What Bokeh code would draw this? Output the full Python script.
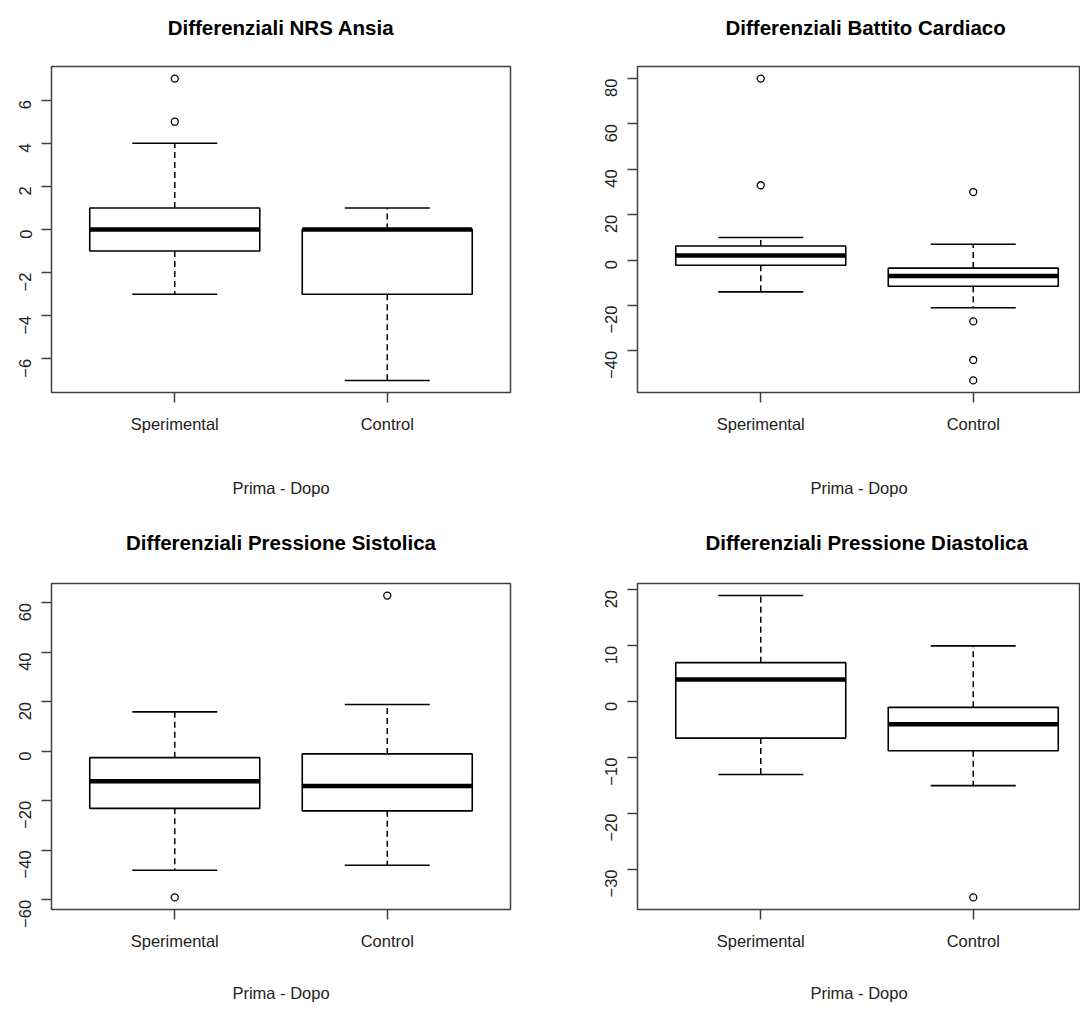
import math
from bokeh.plotting import figure
from bokeh.layouts import gridplot
from bokeh.models import Range1d, FixedTicker, LinearAxis
from bokeh.embed import file_html
from bokeh.resources import INLINE

groups = ["Sperimental", "Control"]

# Differenziali NRS Ansia
nrs_whisker_low = [-3, -7]
nrs_q1 = [-1, -3]
nrs_median = [0, 0]
nrs_q3 = [1, 0]
nrs_whisker_high = [4, 1]
nrs_outliers = [[5, 7], []]
nrs_ticks = [-6, -4, -2, 0, 2, 4, 6]

# Differenziali Battito Cardiaco
hr_whisker_low = [-14, -21]
hr_q1 = [-2.25, -11.5]
hr_median = [2, -7]
hr_q3 = [6.25, -3.5]
hr_whisker_high = [10, 7]
hr_outliers = [[33, 80], [30, -27, -44, -53]]
hr_ticks = [-40, -20, 0, 20, 40, 60, 80]

# Differenziali Pressione Sistolica
sys_whisker_low = [-48, -46]
sys_q1 = [-23, -24]
sys_median = [-12, -14]
sys_q3 = [-2.5, -1]
sys_whisker_high = [16, 19]
sys_outliers = [[-59], [63]]
sys_ticks = [-60, -40, -20, 0, 20, 40, 60]

# Differenziali Pressione Diastolica
dia_whisker_low = [-13, -15]
dia_q1 = [-6.5, -8.75]
dia_median = [4, -4]
dia_q3 = [7, -1]
dia_whisker_high = [19, 10]
dia_outliers = [[], [-35]]
dia_ticks = [-30, -20, -10, 0, 10, 20]

x_label = "Prima - Dopo"

FONT = "Liberation Sans"
FRAME_COL = "#404040"
TEXT_COL = "#222222"
FULL_FRAME_W = 459


def make_panel(title, lo, q1, med, q3, hi, outs, ticks, fig_w, fig_h,
               border_left, border_right, border_top, border_bottom,
               title_gap, title_align, title_offset, label_standoff):
    n = len(groups)
    xs = [i + 1 for i in range(n)]
    allv = lo + hi + [v for o in outs for v in o]
    vmin, vmax = min(allv), max(allv)
    pad = 0.04 * (vmax - vmin)
    y0, y1 = vmin - pad, vmax + pad
    x0 = 0.5 - 0.04 * n
    span_full = n * 1.08
    frame_w = fig_w - border_left - border_right
    x1 = x0 + span_full * frame_w / FULL_FRAME_W

    p = figure(width=fig_w, height=fig_h,
               x_range=Range1d(x0, x1), y_range=Range1d(y0, y1),
               output_backend="svg", toolbar_location=None,
               min_border_left=border_left, min_border_right=border_right,
               min_border_top=border_top, min_border_bottom=border_bottom,
               background_fill_color="white", border_fill_color="white")
    p.xgrid.visible = False
    p.ygrid.visible = False
    p.outline_line_color = FRAME_COL
    p.outline_line_width = 1.5

    bw = 0.4
    cw = 0.2
    # whiskers (dashed)
    p.segment(x0=xs, y0=q3, x1=xs, y1=hi, line_color="black", line_width=1.5, line_dash="6 4")
    p.segment(x0=xs, y0=q1, x1=xs, y1=lo, line_color="black", line_width=1.5, line_dash="6 4")
    # caps
    p.segment(x0=[x - cw for x in xs], y0=hi, x1=[x + cw for x in xs], y1=hi,
              line_color="black", line_width=1.6)
    p.segment(x0=[x - cw for x in xs], y0=lo, x1=[x + cw for x in xs], y1=lo,
              line_color="black", line_width=1.6)
    # boxes
    p.quad(left=[x - bw for x in xs], right=[x + bw for x in xs], bottom=q1, top=q3,
           fill_color="white", line_color="black", line_width=1.6)
    # medians
    p.segment(x0=[x - bw for x in xs], y0=med, x1=[x + bw for x in xs], y1=med,
              line_color="black", line_width=4.5, line_cap="butt")
    # outliers
    ox = [xs[i] for i, o in enumerate(outs) for _ in o]
    oy = [v for o in outs for v in o]
    if ox:
        p.scatter(x=ox, y=oy, marker="circle", size=7, fill_color=None,
                  line_color="black", line_width=1.3)

    # axes
    for ax in (p.xaxis, p.yaxis):
        ax.axis_line_color = None
        ax.major_tick_line_color = FRAME_COL
        ax.major_tick_line_width = 1.5
        ax.major_tick_out = 10
        ax.major_tick_in = 0
        ax.minor_tick_line_color = None
        ax.major_label_text_font = FONT
        ax.major_label_text_font_size = "16.5px"
        ax.major_label_text_color = TEXT_COL
    p.xaxis.ticker = FixedTicker(ticks=xs)
    p.xaxis.major_label_overrides = {x: g for x, g in zip(xs, groups)}
    p.xaxis.major_label_standoff = 12
    p.xaxis.axis_label = x_label
    p.xaxis.axis_label_text_font = FONT
    p.xaxis.axis_label_text_font_size = "16.5px"
    p.xaxis.axis_label_text_font_style = "normal"
    p.xaxis.axis_label_text_color = TEXT_COL
    p.xaxis.axis_label_standoff = label_standoff
    p.yaxis.ticker = FixedTicker(ticks=ticks)
    p.yaxis.major_label_orientation = math.pi / 2
    p.yaxis.major_label_standoff = 16

    # invisible spacer axis above the frame (one near-transparent tick, no label),
    # so that the title sits higher above the box as in the original
    spacer = LinearAxis(ticker=FixedTicker(ticks=[(1 + n) / 2]), axis_line_color=None,
                        major_tick_line_color="white", major_tick_line_alpha=0.01,
                        major_tick_line_width=1, minor_tick_line_color=None,
                        major_tick_out=title_gap, major_tick_in=0, minor_tick_out=0,
                        major_label_standoff=0, major_label_text_font_size="0px",
                        major_label_text_color=None)
    p.add_layout(spacer, "above")

    p.title.text = title
    p.title.text_font = FONT
    p.title.text_font_size = "20.5px"
    p.title.text_font_style = "bold"
    p.title.text_color = "black"
    p.title.align = title_align
    p.title.offset = title_offset
    p.title.standoff = 10
    return p


p1 = make_panel("Differenziali NRS Ansia", nrs_whisker_low, nrs_q1, nrs_median, nrs_q3,
                nrs_whisker_high, nrs_outliers, nrs_ticks, 544, 506, 51, 34, 66, 114,
                23, "center", 0, 43)
p2 = make_panel("Differenziali Battito Cardiaco", hr_whisker_low, hr_q1, hr_median, hr_q3,
                hr_whisker_high, hr_outliers, hr_ticks, 536, 506, 93, 0, 66, 114,
                23, "left", 88, 43)
p3 = make_panel("Differenziali Pressione Sistolica", sys_whisker_low, sys_q1, sys_median, sys_q3,
                sys_whisker_high, sys_outliers, sys_ticks, 544, 498, 51, 34, 77, 95,
                25, "center", 0, 31)
p4 = make_panel("Differenziali Pressione Diastolica", dia_whisker_low, dia_q1, dia_median, dia_q3,
                dia_whisker_high, dia_outliers, dia_ticks, 536, 498, 93, 0, 77, 95,
                25, "left", 68, 31)

grid = gridplot([[p1, p2], [p3, p4]], toolbar_location=None)

open("out.html", "w").write(file_html(grid, INLINE))
